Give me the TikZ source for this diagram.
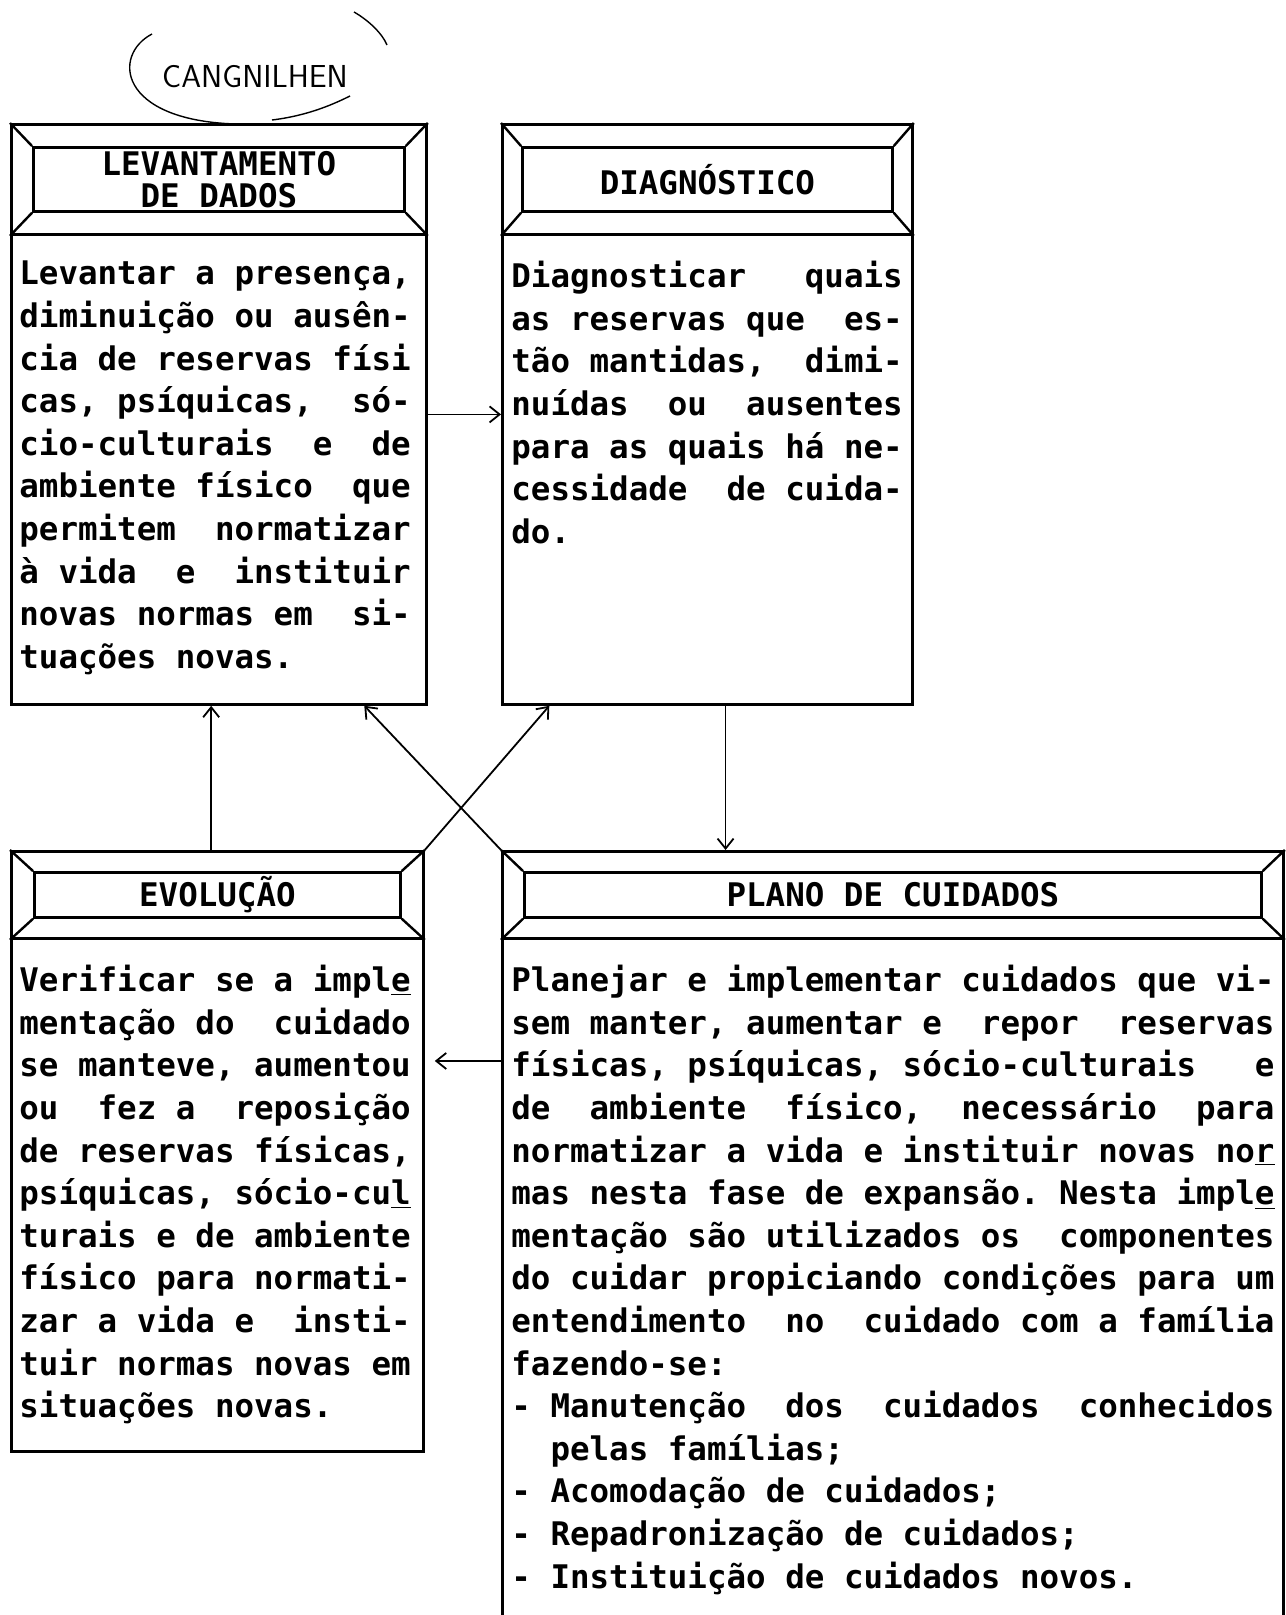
\documentclass[tikz,border=0pt]{standalone}
\usepackage{fontspec}
\setmonofont{DejaVu Sans Mono}
\usetikzlibrary{calc,positioning,arrows.meta}
\newcommand{\dotfont}{\ttfamily\bfseries\frenchspacing\fontsize{16.25pt}{21.3pt}\selectfont}

\begin{document}
\begin{tikzpicture}[x=0.5pt,y=-0.5pt,
  box/.style={draw,line width=1.4pt,rectangle,inner sep=0pt,anchor=north west},
  head/.style={draw,line width=1.4pt,rectangle,inner sep=0pt,anchor=north},
  inset/.style={draw,line width=1.3pt,rectangle,inner sep=0pt},
  bevel/.style={line width=1.2pt},
  title/.style={font=\dotfont,align=center,inner sep=0pt},
  body/.style={font=\dotfont,align=left,inner sep=0pt,anchor=north west},
  link/.style={-{Straight Barb[length=5pt,width=8pt]},line width=0.9pt}
  ]
  \useasboundingbox (0,0) rectangle (1285,1615);

  % handwritten note
  \node [font=\sffamily\fontsize{15.9pt}{18pt}\selectfont] at (255,77) (note) {CANGNILHEN};
  \draw [line width=0.7pt] (152,34) .. controls (112,55) and (118,120) .. (235,124);
  \draw [line width=0.7pt] (272,120) .. controls (305,116) and (330,106) .. (350,96);
  \draw [line width=0.7pt] (354,12) .. controls (368,20) and (382,33) .. (387,45);

  % boxes
  \node [box, minimum width=207.5pt, minimum height=290pt] at (10,123) (lev) {};
  \node [box, minimum width=205pt, minimum height=290pt] at (501,123) (diag) {};
  \node [box, minimum width=206pt, minimum height=300pt] at (10,850) (evol) {};
  \node [box, minimum width=390.5pt, minimum height=385pt] at (501,850) (plan) {};

  % bevelled headers
  \node [head, minimum width=207.5pt, minimum height=55pt] at (lev.north) (levhead) {};
  \node [inset, minimum width=185.5pt, minimum height=32pt] at (levhead) (levin) {};
  \draw [bevel] (levhead.north west) -- (levin.north west) (levhead.north east) -- (levin.north east)
    (levhead.south west) -- (levin.south west) (levhead.south east) -- (levin.south east);

  \node [head, minimum width=205pt, minimum height=55pt] at (diag.north) (diaghead) {};
  \node [inset, minimum width=185pt, minimum height=32pt] at (diaghead) (diagin) {};
  \draw [bevel] (diaghead.north west) -- (diagin.north west) (diaghead.north east) -- (diagin.north east)
    (diaghead.south west) -- (diagin.south west) (diaghead.south east) -- (diagin.south east);

  \node [head, minimum width=206pt, minimum height=43.5pt] at (evol.north) (evolhead) {};
  \node [inset, minimum width=183pt, minimum height=22.5pt] at (evolhead) (evolin) {};
  \draw [bevel] (evolhead.north west) -- (evolin.north west) (evolhead.north east) -- (evolin.north east)
    (evolhead.south west) -- (evolin.south west) (evolhead.south east) -- (evolin.south east);

  \node [head, minimum width=390.5pt, minimum height=43.5pt] at (plan.north) (planhead) {};
  \node [inset, minimum width=368.5pt, minimum height=22.5pt] at (planhead) (planin) {};
  \draw [bevel] (planhead.north west) -- (planin.north west) (planhead.north east) -- (planin.north east)
    (planhead.south west) -- (planin.south west) (planhead.south east) -- (planin.south east);

  % titles
  \node [title, font=\dotfont\fontsize{16.25pt}{16pt}\selectfont] at (levin) (levtitle) {LEVANTAMENTO\\DE DADOS};
  \node [title] at (diagin) (diagtitle) {DIAGNÓSTICO};
  \node [title] at (evolin) (evoltitle) {EVOLUÇÃO};
  \node [title] at (planin) (plantitle) {PLANO DE CUIDADOS};

  % texts
  \node [body] at ($(levhead.south west)+(9,25)$) (levtext) {Levantar a presença,\\
diminuição ou ausên-\\
cia de reservas físi\\
cas, psíquicas,~~só-\\
cio-culturais~~e~~de\\
ambiente físico~~que\\
permitem~~normatizar\\
à vida~~e~~instituir\\
novas normas em~~si-\\
tuações novas.};

  \node [body] at ($(diaghead.south west)+(10,25)$) (diagtext) {Diagnosticar~~~quais\\
as reservas que~~es-\\
tão mantidas,~~dimi-\\
nuídas~~ou~~ausentes\\
para as quais há ne-\\
cessidade~~de cuida-\\
do.};

  \node [body] at ($(evolhead.south west)+(9,25)$) (evoltext) {Verificar se a impl\underline{e}\\
mentação do~~cuidado\\
se manteve, aumentou\\
ou~~fez a~~reposição\\
de reservas físicas,\\
psíquicas, sócio-cu\underline{l}\\
turais e de ambiente\\
físico para normati-\\
zar a vida e~~insti-\\
tuir normas novas em\\
situações novas.};

  \node [body] at ($(planhead.south west)+(10,25)$) (plantext) {Planejar e implementar cuidados que vi-\\
sem manter, aumentar e~~repor~~reservas\\
físicas, psíquicas, sócio-culturais~~~e\\
de~~ambiente~~físico,~~necessário~~para\\
normatizar a vida e instituir novas no\underline{r}\\
mas nesta fase de expansão. Nesta impl\underline{e}\\
mentação são utilizados os~~componentes\\
do cuidar propiciando condições para um\\
entendimento~~no~~cuidado com a família\\
fazendo-se:\\
- Manutenção~~dos~~cuidados~~conhecidos\\
\hphantom{xx}pelas famílias;\\
- Acomodação de cuidados;\\
- Repadronização de cuidados;\\
- Instituição de cuidados novos.};

  % connectors
  \draw [link] (lev.east) -- (lev.east -| diag.west);
  \coordinate (dp) at ($(diag.south west)!0.544!(diag.south east)$);
  \draw [link] (dp) -- (dp |- plan.north);
  \coordinate (el) at ($(evol.north west)!0.485!(evol.north east)$);
  \draw [link] (el) -- (el |- lev.south);
  \draw [link] (plan.north west) -- ($(lev.south west)!0.848!(lev.south east)$);
  \draw [link] (evol.north east) -- ($(diag.south west)!0.117!(diag.south east)$);
  \coordinate (pw) at ($(plan.north west)!0.273!(plan.south west)$);
  \draw [link, shorten >=5pt] (pw) -- (pw -| evol.east);

\end{tikzpicture}
\end{document}
